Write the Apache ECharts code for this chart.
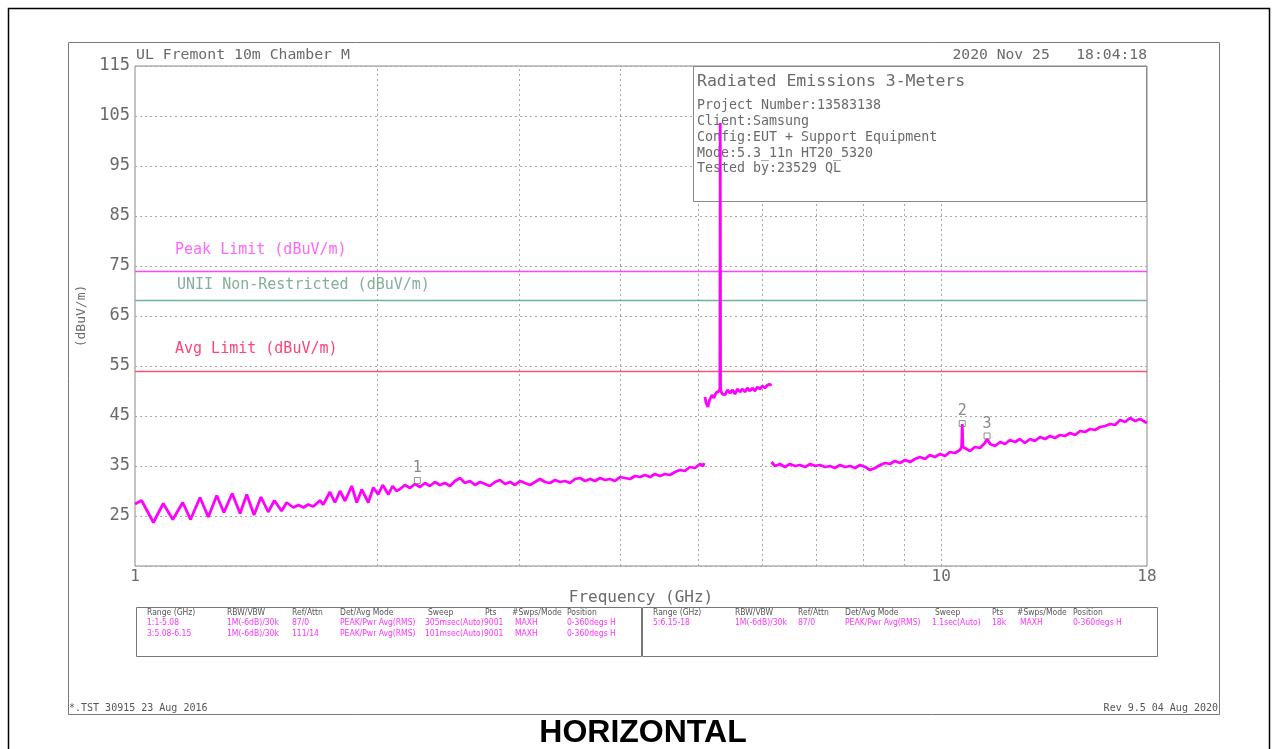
<!DOCTYPE html>
<html><head><meta charset="utf-8">
<script src="https://cdn.jsdelivr.net/npm/echarts@6/dist/echarts.min.js"></script>
<style>html,body{margin:0;padding:0;background:#fff}#c{width:1278px;height:749px}</style>
</head><body><div id="c"></div>
<script>
// ---- data (GHz, dBuV/m) ----
var seg1 = [[1.000,27.4],[1.005,27.0],[1.019,28.1],[1.054,23.7],[1.084,27.5],[1.114,24.3],[1.146,27.7],[1.172,24.3],[1.204,28.7],[1.233,24.8],[1.263,29.1],[1.289,25.7],[1.320,29.5],[1.350,25.5],[1.376,29.3],[1.405,25.2],[1.433,28.8],[1.463,25.8],[1.489,28.1],[1.520,26.0],[1.542,27.7],[1.572,26.7],[1.595,27.2],[1.618,26.7],[1.640,27.3],[1.664,26.9],[1.696,28.1],[1.712,27.3],[1.745,29.8],[1.770,27.7],[1.796,30.0],[1.822,28.0],[1.857,31.0],[1.884,27.7],[1.911,30.3],[1.947,27.7],[1.975,30.7],[2.003,29.3],[2.029,31.2],[2.062,29.3],[2.087,31.0],[2.110,30.0],
  [2.132,30.4],[2.162,31.2],[2.193,30.6],[2.225,31.4],[2.257,30.8],[2.289,31.6],[2.322,31.0],[2.355,31.8],[2.389,31.2],[2.424,31.6],[2.459,31.0],[2.494,32.0],[2.530,32.6],[2.566,31.6],[2.603,32.0],[2.641,31.2],[2.679,31.8],[2.717,31.4],[2.756,31.0],[2.796,31.8],[2.836,32.2],[2.877,31.4],[2.919,31.8],[2.961,31.2],[3.003,32.0],[3.046,31.6],[3.090,31.2],[3.135,31.8],[3.180,32.4],[3.226,31.8],[3.272,31.6],[3.319,32.2],[3.367,31.8],[3.415,32.0],[3.464,31.6],[3.514,32.4],[3.565,32.6],[3.616,32.0],[3.668,32.4],[3.721,32.0],[3.774,32.6],[3.829,32.2],[3.883,32.4],[3.939,32.0],[3.996,32.8],[4.053,32.6],[4.111,32.4],[4.171,33.0],[4.231,32.8],[4.291,33.2],[4.353,32.8],[4.415,33.4],[4.479,33.0],[4.543,33.4],[4.609,33.2],[4.675,33.8],[4.742,34.2],[4.810,34.0],[4.880,34.8],[4.950,34.6],[5.021,35.4],[5.065,35.0],[5.080,35.6]];
var seg3 = [[5.093,48.8],[5.110,47.6],[5.136,46.8],[5.160,48.2],[5.196,49.2],[5.225,48.6],[5.256,49.6],[5.280,49.2],[5.302,50.0],[5.315,50.5],[5.320,103.6],[5.325,50.2],[5.350,49.4],[5.393,49.2],[5.430,50.2],[5.470,49.6],[5.510,50.2],[5.549,49.4],[5.590,50.4],[5.628,49.8],[5.670,50.4],[5.709,49.8],[5.750,50.6],[5.791,50.0],[5.830,50.6],[5.875,50.0],[5.915,50.8],[5.958,50.4],[6.000,51.0],[6.044,50.6],[6.090,51.2],[6.133,51.4],[6.150,51.0]];
var seg5 = [[6.16,35.8],[6.22,35.0],[6.31,35.4],[6.40,34.8],[6.49,35.4],[6.59,35.0],[6.68,35.2],[6.78,34.8],[6.88,35.4],[6.98,35.0],[7.07,35.2],[7.18,34.8],[7.28,35.0],[7.38,34.6],[7.49,35.2],[7.60,34.8],[7.71,35.0],[7.82,34.6],[7.93,35.2],[8.05,34.8],[8.16,34.2],[8.28,34.6],[8.40,35.2],[8.52,35.6],[8.64,35.4],[8.76,36.0],[8.89,35.6],[9.02,36.2],[9.15,35.8],[9.28,36.4],[9.41,36.8],[9.55,36.4],[9.68,37.2],[9.82,36.8],[9.97,37.4],[10.11,37.0],[10.25,37.8],[10.40,37.6],[10.55,38.2],[10.60,38.8],[10.62,43.4],[10.64,38.8],[10.70,38.4],[10.86,38.0],[11.01,38.8],[11.17,38.6],[11.33,39.6],[11.40,40.4],[11.50,39.4],[11.66,39.0],[11.83,39.8],[12.00,39.4],[12.17,40.2],[12.35,39.8],[12.52,40.4],[12.70,39.6],[12.89,40.4],[13.07,40.0],[13.26,40.8],[13.45,40.4],[13.64,41.0],[13.84,40.6],[14.04,41.2],[14.24,41.0],[14.45,41.6],[14.66,41.2],[14.87,42.0],[15.08,41.8],[15.30,42.4],[15.52,42.2],[15.74,42.8],[15.97,43.0],[16.20,43.4],[16.43,43.2],[16.67,44.2],[16.91,43.8],[17.15,44.6],[17.40,44.0],[17.65,44.4],[18.00,43.6]];
var gridFreqs = [2,3,4,5,6,7,8,9,10];
var limitNames = ['Peak Limit (dBuV/m)','UNII Non-Restricted (dBuV/m)','Avg Limit (dBuV/m)'];
var limitValues = [74, 68.2, 54];
var markerLabels = ['1','2','3'];
var markerFreqs = [2.24, 10.62, 11.40];
var markerLevels = [32.1, 43.5, 41.0];
var xTickLabels = ['1','10','18'];
var infoLines = ['Project Number:13583138','Client:Samsung','Config:EUT + Support Equipment','Mode:5.3_11n HT20_5320','Tested by:23529 QL'];
var tableHeaders = ['Range (GHz)','RBW/VBW','Ref/Attn','Det/Avg Mode','Sweep','Pts','#Swps/Mode','Position'];
var tableRowsLeft = [['1:1-5.08','1M(-6dB)/30k','87/0','PEAK/Pwr Avg(RMS)','305msec(Auto)','9001','MAXH','0-360degs H'],
                     ['3:5.08-6.15','1M(-6dB)/30k','111/14','PEAK/Pwr Avg(RMS)','101msec(Auto)','9001','MAXH','0-360degs H']];
var tableRowsRight = [['5:6.15-18','1M(-6dB)/30k','87/0','PEAK/Pwr Avg(RMS)','1.1sec(Auto)','18k','MAXH','0-360degs H']];

// ---- styles ----
var MONO = "'DejaVu Sans Mono', 'Liberation Mono', monospace";
var NARROW = "'Liberation Sans Narrow', 'DejaVu Sans Condensed', 'Liberation Sans', sans-serif";
var GRAY = '#6a6a6a';
var TRACE = '#ff00ff';
var limitColors = ['#ff44ff','#6db597','#ff4f72'];
var limitLabelColors = ['#ff66ff','#86ae9c','#ff4477'];
var limitLabelPos = [[175,250],[177,285],[175,349]];

var chart = echarts.init(document.getElementById('c'));

var graphics = [];
graphics.push({type:'rect', shape:{x:8.5,y:8.5,width:1261,height:780}, style:{fill:'none',stroke:'#000',lineWidth:1.5}, z:0, silent:true});
graphics.push({type:'rect', shape:{x:68.5,y:42.5,width:1151,height:672}, style:{fill:'none',stroke:'#7a7a7a',lineWidth:1}, z:0, silent:true});
graphics.push({type:'text', x:136, y:55, style:{text:'UL Fremont 10m Chamber M', font:'14.8px '+MONO, fill:GRAY, verticalAlign:'middle'}, z:10});
graphics.push({type:'text', x:1147, y:55, style:{text:'2020 Nov 25   18:04:18', font:'14.7px '+MONO, fill:GRAY, align:'right', verticalAlign:'middle'}, z:10});
// info box (on its own layer above the grid)
graphics.push({type:'rect', shape:{x:693.5,y:66.5,width:453,height:135}, style:{fill:'#fff',stroke:'#888',lineWidth:1}, zlevel:1, z:2, silent:true});
graphics.push({type:'text', x:697, y:82, style:{text:'Radiated Emissions 3-Meters', font:'16.5px '+MONO, fill:GRAY, verticalAlign:'middle'}, zlevel:1, z:10});
infoLines.forEach(function(t,i){
  graphics.push({type:'text', x:697, y:106+i*15.7, style:{text:t, font:'13.3px '+MONO, fill:GRAY, verticalAlign:'middle'}, zlevel:1, z:10});
});
// limit labels
limitNames.forEach(function(n,i){
  graphics.push({type:'text', x:limitLabelPos[i][0], y:limitLabelPos[i][1], style:{text:n, font:'15px '+MONO, fill:limitLabelColors[i], verticalAlign:'middle'}, z:10});
});
// table
graphics.push({type:'rect', shape:{x:136.5,y:607.5,width:505,height:49}, style:{fill:'none',stroke:'#777',lineWidth:1}, z:0, silent:true});
graphics.push({type:'rect', shape:{x:642.5,y:607.5,width:515,height:49}, style:{fill:'none',stroke:'#777',lineWidth:1}, z:0, silent:true});
var colLeft = [147,227,292,340,428,485,512,567];
var colLeftVal = [147,227,292,340,425,484,515,567];
var colRight = [653,735,798,845,935,992,1017,1073];
var colRightVal = [653,735,798,845,932,992,1020,1073];
tableHeaders.forEach(function(h,i){
  graphics.push({type:'text', x:colLeft[i], y:613, style:{text:h, font:'8.5px '+NARROW, fill:'#555', verticalAlign:'middle'}, z:10});
  graphics.push({type:'text', x:colRight[i], y:613, style:{text:h, font:'8.5px '+NARROW, fill:'#555', verticalAlign:'middle'}, z:10});
});
tableRowsLeft.forEach(function(r,j){
  r.forEach(function(v,i){
    graphics.push({type:'text', x:colLeftVal[i], y:623+j*11, style:{text:v, font:'8.5px '+NARROW, fill:'#ff33ff', verticalAlign:'middle'}, z:10});
  });
});
tableRowsRight.forEach(function(r,j){
  r.forEach(function(v,i){
    graphics.push({type:'text', x:colRightVal[i], y:623+j*11, style:{text:v, font:'8.5px '+NARROW, fill:'#ff33ff', verticalAlign:'middle'}, z:10});
  });
});
// footer
graphics.push({type:'text', x:69, y:708, style:{text:'*.TST 30915 23 Aug 2016', font:'10px '+MONO, fill:'#555', verticalAlign:'middle'}, z:10});
graphics.push({type:'text', x:1218, y:708, style:{text:'Rev 9.5 04 Aug 2020', font:'10px '+MONO, fill:'#555', align:'right', verticalAlign:'middle'}, z:10});
graphics.push({type:'text', x:643, y:733, style:{text:'HORIZONTAL', font:'bold 32px "Liberation Sans", Arial, sans-serif', fill:'#000', align:'center', verticalAlign:'middle'}, z:10});

var traceStyle = {color:TRACE, width:2.8};
var option = {
  animation:false,
  backgroundColor:'#fff',
  grid:{left:135, right:131, top:66, bottom:183, show:true, borderColor:'#888', borderWidth:1, backgroundColor:'transparent'},
  xAxis:{type:'log', logBase:10, min:1, max:18,
    name:'Frequency (GHz)', nameLocation:'middle', nameGap:22,
    nameTextStyle:{fontFamily:MONO, fontSize:16, color:GRAY},
    axisLine:{show:false}, axisTick:{show:false}, splitLine:{show:false},
    axisLabel:{margin:3, fontFamily:MONO, fontSize:16, color:GRAY,
      formatter:function(v){ var s=String(Math.round(v)); return xTickLabels.indexOf(s)>=0 ? s : ''; }}},
  yAxis:{type:'value', min:15, max:115, interval:10,
    name:'(dBuV/m)', nameLocation:'middle', nameGap:38, nameRotate:90,
    nameTextStyle:{fontFamily:MONO, fontSize:13, color:GRAY},
    axisLine:{show:false}, axisTick:{show:false},
    axisLabel:{showMinLabel:false, margin:5, fontFamily:MONO, fontSize:17, color:GRAY},
    splitLine:{show:true, lineStyle:{type:[2,3], color:'#a8a8a8', width:1}}},
  graphic:{elements:graphics},
  series:[
    {type:'line', name:'grid', data:[], z:1, silent:true,
      markLine:{silent:true, z:1, symbol:['none','none'], label:{show:false},
        lineStyle:{type:[2,3], color:'#a8a8a8', width:1},
        data:gridFreqs.map(function(f){return {xAxis:f};})}},
    {type:'line', name:'limits', data:[], z:4, silent:true,
      markLine:{silent:true, z:4, symbol:['none','none'], label:{show:false},
        data:limitValues.map(function(v,i){return {yAxis:v, lineStyle:{type:'solid', color:limitColors[i], width:1.3}};})}},
    {type:'line', name:'seg1', data:seg1, showSymbol:false, zlevel:2, z:5, lineStyle:traceStyle, itemStyle:{color:TRACE}},
    {type:'line', name:'seg3', data:seg3, showSymbol:false, zlevel:2, z:5, lineStyle:traceStyle, itemStyle:{color:TRACE}},
    {type:'line', name:'seg5', data:seg5, showSymbol:false, zlevel:2, z:5, lineStyle:traceStyle, itemStyle:{color:TRACE}},
    {type:'scatter', name:'markers', zlevel:2, z:6, symbol:'rect', symbolSize:6,
      itemStyle:{color:'rgba(255,255,255,0)', borderColor:'#777', borderWidth:1},
      label:{show:true, position:'top', distance:1, fontFamily:MONO, fontSize:15, color:GRAY,
        formatter:function(p){return markerLabels[p.dataIndex];}},
      data:markerFreqs.map(function(f,i){return [f, markerLevels[i]];})}
  ]
};
chart.setOption(option);
</script></body></html>
